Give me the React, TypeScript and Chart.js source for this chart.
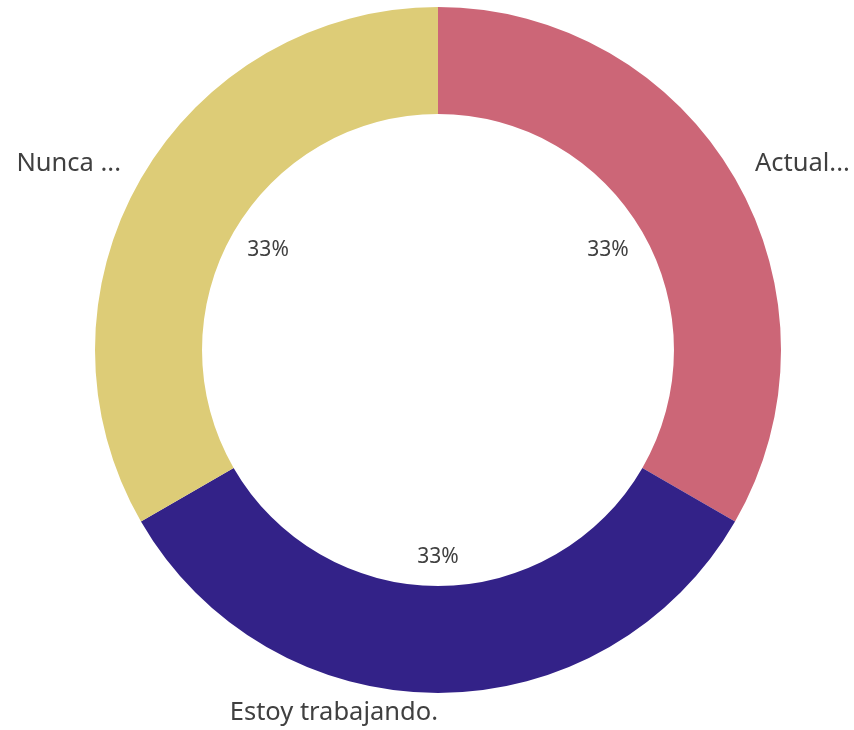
import React, { useEffect, useRef } from "react";
import { Chart, registerables } from "chart.js";

Chart.register(...registerables);

const categories = ["Actual...", "Estoy trabajando.", "Nunca ..."];
const values = [1, 1, 1];
const colors = ["#CC6677", "#332288", "#DDCC77"];

const FONT = "'Noto Sans', 'Open Sans', sans-serif";
const TEXT_COLOR = "#404040";

const labelPlugin = {
  id: "doughnutLabels",
  afterDraw(chart: any) {
    const ctx = chart.ctx;
    const meta = chart.getDatasetMeta(0);
    const data = chart.data.datasets[0].data as number[];
    const total = data.reduce((a, b) => a + b, 0);
    ctx.save();
    ctx.fillStyle = TEXT_COLOR;
    meta.data.forEach((arc: any, i: number) => {
      const { x, y, startAngle, endAngle, outerRadius } = arc.getProps(
        ["x", "y", "startAngle", "endAngle", "outerRadius"],
        true
      );
      const a = (startAngle + endAngle) / 2;
      const c = Math.cos(a);
      const s = Math.sin(a);
      // percentage inside the hole
      const rpx = outerRadius * 0.572;
      const rpy = outerRadius * 0.597;
      ctx.font = `21px ${FONT}`;
      ctx.textAlign = "center";
      ctx.textBaseline = "middle";
      const pct = Math.round((data[i] / total) * 100) + "%";
      ctx.fillText(pct, x + c * rpx, y + s * rpy + 2);
      // category label outside
      const ro = outerRadius + 23;
      ctx.font = `25.5px ${FONT}`;
      ctx.textAlign = c > 0.01 ? "left" : "right";
      ctx.textBaseline = "middle";
      ctx.fillText(chart.data.labels[i], x + c * ro, y + s * ro - 3);
    });
    ctx.restore();
  },
};

export default function App() {
  const ref = useRef<HTMLCanvasElement>(null);
  useEffect(() => {
    if (!ref.current) return;
    const chart = new Chart(ref.current, {
      type: "doughnut",
      data: {
        labels: categories,
        datasets: [
          {
            data: values,
            backgroundColor: colors,
            borderWidth: 0,
          },
        ],
      },
      options: {
        responsive: false,
        animation: false,
        cutout: "68.8%",
        layout: { padding: { left: 95, right: 73, top: 7, bottom: 37 } },
        plugins: {
          legend: { display: false },
          tooltip: { enabled: false },
        },
      },
      plugins: [labelPlugin],
    });
    return () => chart.destroy();
  }, []);
  return (
    <div style={{ position: "absolute", left: 0, top: 0, width: 854, height: 730, background: "#fff" }}>
      <canvas ref={ref} width={854} height={730} />
    </div>
  );
}
